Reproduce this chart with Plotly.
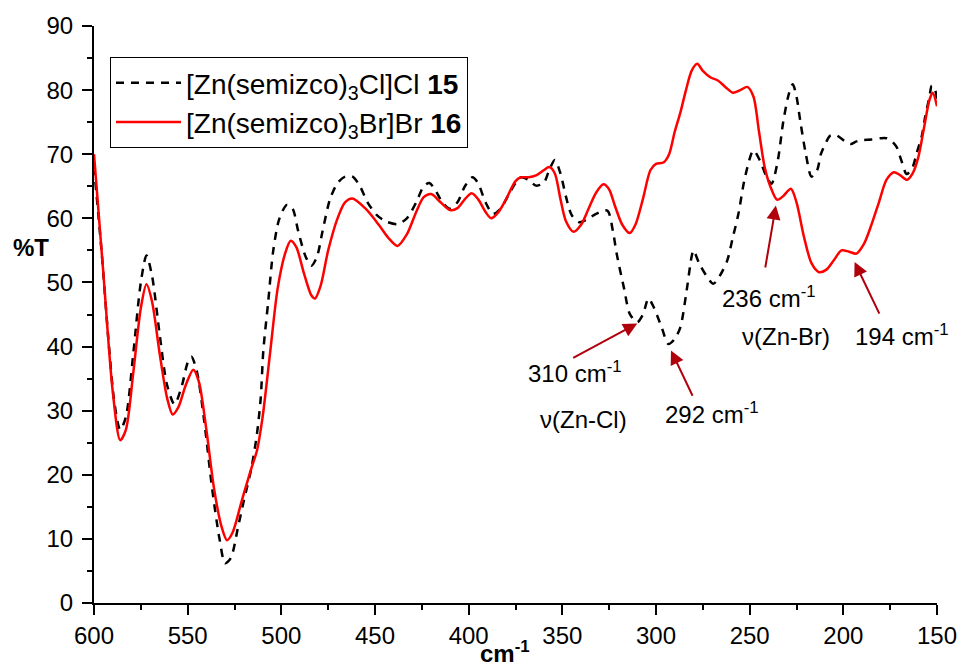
import plotly.graph_objects as go

# Far-IR spectra, wavenumber (cm-1) vs transmittance (%T)
wn_cl = [600, 596, 592, 589, 586, 583, 579, 575, 572, 569, 565, 561, 557, 553, 550, 548,
         545, 541, 537, 533, 530, 527, 523, 520, 516, 513, 511, 509.6, 507, 504.3, 501, 497,
         494, 491, 487, 484, 481, 478, 474, 470, 466, 462, 458, 454, 449, 444, 438, 433,
         428, 424, 421, 418, 414, 410, 406, 402, 398, 395, 391, 387, 383, 379, 375, 372,
         368, 364, 360, 357, 354, 351, 348, 345, 341, 337, 332, 326, 323, 321, 317, 314,
         310, 307, 304, 301, 297, 293.4, 290, 287, 284, 281, 280, 277, 273, 269.4, 266, 262,
         259, 256, 252.5, 248, 244.5, 241, 238.3, 235, 232, 229, 227, 225, 223, 220, 217, 214,
         212, 209, 207, 204, 201.8, 198, 196, 193, 190, 185, 180, 177, 174, 171.5, 169, 166.2,
         163, 161, 158, 156.4, 154, 152.8, 151, 150]
t_cl = [68, 55, 40, 31, 27, 29, 39, 50, 54.2, 51, 42, 34, 31, 34, 37.5, 38.4,
        36, 28, 18, 10, 6.2, 7, 12, 16, 21, 26.4, 32, 39.4, 47, 55, 60, 62.1,
        61.5, 58, 54, 52.6, 54, 58, 63, 65.5, 66.5, 66.5, 65, 62.5, 60.5, 59.5, 59.1, 60,
        62.5, 65, 65.5, 64.5, 62.5, 61.5, 62.5, 65, 66.4, 65.5, 62.5, 60.7, 61.5, 63.5, 65.5, 66.4,
        66, 65.1, 65.5, 67.5, 69.1, 67, 63.3, 60.5, 59.4, 59.8, 60.7, 61.2, 58, 54.5, 49, 45.1,
        43.8, 45, 47.5, 46, 43, 40.4, 41.2, 43, 48, 54, 55, 53, 51, 49.8, 51, 53.4,
        57, 60.7, 66.4, 70.6, 69, 66.5, 65.4, 69, 75.2, 79.5, 80.9, 79, 75.2, 70, 66.5, 67.5,
        70, 72, 72.9, 73, 72.6, 71.8, 71.6, 72, 72.2, 72.3, 72.5, 72.5, 72, 71.1, 69, 66.9,
        68, 70, 73, 75.7, 79, 80.7, 80, 78.4]

wn_br = [600, 595, 590, 586, 583, 579, 575, 572, 569, 565, 561, 558, 555, 551, 547, 544,
         540, 536, 532, 529, 526, 522, 520, 516, 513, 510, 506, 502, 498, 495, 492, 488,
         484, 482, 479, 475, 470, 466, 462, 455, 448, 443, 438, 433, 428, 424, 420, 415,
         410, 406, 402, 398.4, 395, 391, 388, 384, 380, 375, 372, 368, 364, 360, 357, 354,
         351, 348, 344, 340, 336, 332, 328, 325, 322, 318, 314, 311, 307, 303, 300, 296,
         293, 290, 287, 284, 281, 278, 275, 271, 267, 263, 259, 255, 251.3, 248, 245, 242,
         239, 235.3, 232, 228, 225, 221, 217, 213, 209, 205, 201, 197, 193, 189, 185, 181,
         177, 173, 170, 166, 163, 160, 157, 154, 152.3, 150]
t_br = [70, 51.4, 33, 25.4, 27, 36, 46, 49.7, 47, 39, 32, 29.4, 30.5, 34, 36.4, 34.5,
        27, 18, 12, 9.8, 11, 15, 17.1, 21, 23.8, 29, 39, 49, 54.5, 56.5, 55.5, 51.5,
        48, 47.5, 49.5, 55, 60, 62.5, 63.1, 61.5, 59, 57, 55.7, 57.5, 61, 63.3, 63.8, 62.5,
        61.3, 61.6, 63, 63.9, 63, 61, 60, 61, 63, 65.8, 66.4, 66.4, 66.7, 67.5, 68, 67,
        63, 59.5, 57.9, 59, 61.5, 64, 65.3, 64.5, 62, 59, 57.7, 59, 63, 67.5, 68.5, 68.7,
        70, 73.5, 76.5, 80, 83, 84.1, 83, 82, 81.5, 80.5, 79.6, 80, 80.5, 79, 73.5, 68,
        65, 62.9, 63.5, 64.6, 62.5, 57.1, 53, 51.6, 52, 53.5, 55, 54.8, 54.5, 56, 59, 62.5,
        66, 67.2, 66.8, 66, 67, 69.5, 74, 78.5, 79.6, 77.5]

# Band assignments: (label value, %T at arrow tip, arrow tail wavenumber, tail %T)
bands = [(310, 43.6, 345.0, 38.1),
         (292, 39.4, 280.1, 32.1),
         (236, 62.0, 241.8, 52.1),
         (194, 53.2, 180.4, 44.9)]

FONT = "Liberation Sans, Arial, sans-serif"
ARROW = "#B0000C"

fig = go.Figure()
fig.add_trace(go.Scatter(
    x=wn_cl, y=t_cl, mode="lines",
    name="[Zn(semizco)<sub>3</sub>Cl]Cl <b>15</b>",
    line=dict(color="black", width=2.5, dash="8px,7px", shape="spline", smoothing=0.8),
    legendgroup="a"))
fig.add_trace(go.Scatter(
    x=wn_br, y=t_br, mode="lines",
    name="[Zn(semizco)<sub>3</sub>Br]Br <b>16</b>",
    line=dict(color="#FF0000", width=2.5, shape="spline", smoothing=0.8),
    legendgroup="b"))

# plot area in pixels: x 94..937, y 26..603
def px(xp):
    return (xp - 94) / 843.0

def py(yp):
    return (603 - yp) / 577.0

annotations = []
for val, tip, tail_x, tail_y in bands:
    annotations.append(dict(
        x=val, y=tip, xref="x", yref="y", ax=tail_x, ay=tail_y, axref="x", ayref="y",
        text="", showarrow=True, arrowhead=2, arrowsize=1.4, arrowwidth=2,
        arrowcolor=ARROW))

labels = [
    ("310 cm<sup>-1</sup>", 525.7, 372),
    ("\u03bd(Zn-Cl)", 538.3, 419),
    ("292 cm<sup>-1</sup>", 663.3, 413),
    ("236 cm<sup>-1</sup>", 720.0, 297),
    ("\u03bd(Zn-Br)", 740.0, 336),
    ("194 cm<sup>-1</sup>", 852.7, 335),
]
for txt, xl, yc in labels:
    annotations.append(dict(
        x=px(xl), y=py(yc), xref="paper", yref="paper", text=txt, showarrow=False,
        xanchor="left", yanchor="middle", font=dict(family=FONT, size=24, color="black")))

annotations.append(dict(
    x=px(31), y=py(247), xref="paper", yref="paper", text="<b>%T</b>", showarrow=False,
    xanchor="center", yanchor="middle", font=dict(family=FONT, size=24, color="black")))
annotations.append(dict(
    x=px(478), y=py(669), xref="paper", yref="paper", text="<b>cm<sup>-1</sup></b>",
    showarrow=False, xanchor="left", yanchor="bottom",
    font=dict(family=FONT, size=24, color="black")))

axis_common = dict(
    showline=True, linecolor="black", linewidth=2, mirror=False,
    ticks="outside", ticklen=10, tickwidth=2, tickcolor="black",
    showgrid=False, zeroline=False, automargin=False,
    tickfont=dict(family=FONT, size=24, color="black"),
)

fig.update_layout(
    width=962, height=666,
    margin=dict(l=94, r=25, t=26, b=63, autoexpand=False),
    paper_bgcolor="white", plot_bgcolor="white",
    font=dict(family=FONT, color="black"),
    xaxis=dict(range=[600, 150], tickmode="linear", tick0=150, dtick=50,
               ticklabelstandoff=0,
               minor=dict(dtick=25, ticklen=5, tickwidth=2, ticks="outside", tickcolor="black"),
               **axis_common),
    yaxis=dict(range=[0, 90], tickmode="linear", tick0=0, dtick=10,
               ticklabelstandoff=4,
               minor=dict(dtick=5, ticklen=5, tickwidth=2, ticks="outside", tickcolor="black"),
               **axis_common),
    legend=dict(x=px(110), y=py(57), xanchor="left", yanchor="top",
                bordercolor="black", borderwidth=1, bgcolor="white",
                font=dict(family=FONT, size=28, color="black"),
                itemwidth=65, tracegroupgap=0),
    annotations=annotations,
    showlegend=True,
)

fig.write_html("out.html")
